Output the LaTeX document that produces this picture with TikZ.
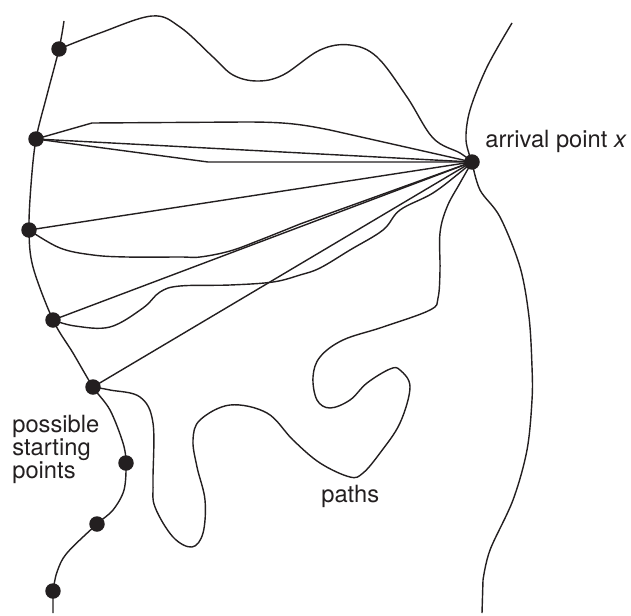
\documentclass[tikz,border=0pt]{standalone}
\usepackage{fontspec}
\setmainfont{TeX Gyre Heros}
\definecolor{ink}{HTML}{231F20}
\begin{document}
\begin{tikzpicture}[x=0.02cm,y=-0.02cm,
  curve/.style={draw=ink, line width=0.8pt, line join=round},
  dot/.style={circle, fill=ink, inner sep=0pt, minimum size=0.31cm},
  lbl/.style={font=\fontsize{13.5}{13}\selectfont, text=ink, inner sep=0pt, align=left}]
\useasboundingbox (0,0) rectangle (631,615);

% dots
\node[dot] (P1) at (59,49) {};
\node[dot] (P2) at (36,139) {};
\node[dot] (P3) at (29,230) {};
\node[dot] (P4) at (53,320) {};
\node[dot] (P5) at (93,387) {};
\node[dot] (P6) at (126,463) {};
\node[dot] (P7) at (97,524) {};
\node[dot] (P8) at (53,591) {};
\node[dot] (X) at (472,162) {};

% left boundary
\draw[curve] plot[smooth, tension=0.55] coordinates {(64,21) (P1.center) (47,95) (P2.center) (31,185) (P3.center) (33,267) (P4.center) (73,353) (P5.center) (110,410) (123,443) (P6.center) (124,490) (113,510) (P7.center) (67,553) (57,572) (P8.center)} -- (53,613);

% right boundary
\draw[curve] plot[smooth, tension=0.55] coordinates {(512,23) (487,67) (470,110) (466,140) (X.center)};
\draw[curve] plot[smooth, tension=0.55] coordinates {(X.center) (480,190) (500,217) (520,267) (529,317) (532,367) (532,400) (527,450) (513,500) (490,550) (483,580)} -- (482,613);

% top wavy path
\draw[curve] plot[smooth, tension=0.6] coordinates {(P1.center) (100,33) (152,16) (180,27) (213,57) (233,75) (257,81) (283,75) (320,50) (350,45) (377,57) (407,97) (433,138) (460,153) (X.center)};

% paths from P2
\draw[curve] (P2.center) -- (92,123) -- (245,122) .. controls (285,122) and (300,124) .. (330,130) -- (X.center);
\draw[curve] (P2.center) -- (X.center);
\draw[curve] (P2.center) -- (208,162) -- (X.center);

% paths from P3
\draw[curve] (P3.center) -- (X.center);
\draw[curve] plot[smooth, tension=0.6] coordinates {(P3.center) (60,248) (93,255) (127,257) (180,257) (200,257) (230,251) (260,240) (300,224)} -- (X.center);

% paths from P4
\draw[curve] (P4.center) -- (X.center);
\draw[curve] plot[smooth, tension=0.6] coordinates {(P4.center) (75,326) (110,327) (143,308) (160,292) (180,286) (230,285) (273,282) (300,275) (320,268) (350,250) (383,230) (400,210) (433,193) (463,170) (X.center)};

% paths from P5
\draw[curve] (P5.center) -- (X.center);
\draw[curve] plot[smooth, tension=0.6] coordinates {(P5.center) (110,390) (140,397) (153,423) (153,483) (155,507) (173,537) (192,547) (203,533) (205,500) (197,467) (193,440) (200,420) (230,405) (267,413) (293,440) (320,463) (350,477) (363,473) (380,453) (400,423) (410,387) (400,370) (390,369) (367,383) (350,400) (330,408) (317,400) (313,377) (320,357) (343,340) (383,327) (430,310) (438,298) (440,270) (440,233) (447,207) (460,183) (X.center)};

% labels
\node[lbl, anchor=base west] (lx) at (485,147) {arrival point \textit{x}};
\node[lbl, anchor=base west] (ls) at (12,478) {possible\\starting\\points};
\node[lbl, anchor=base west] (lp) at (321,502) {paths};
\end{tikzpicture}
\end{document}
